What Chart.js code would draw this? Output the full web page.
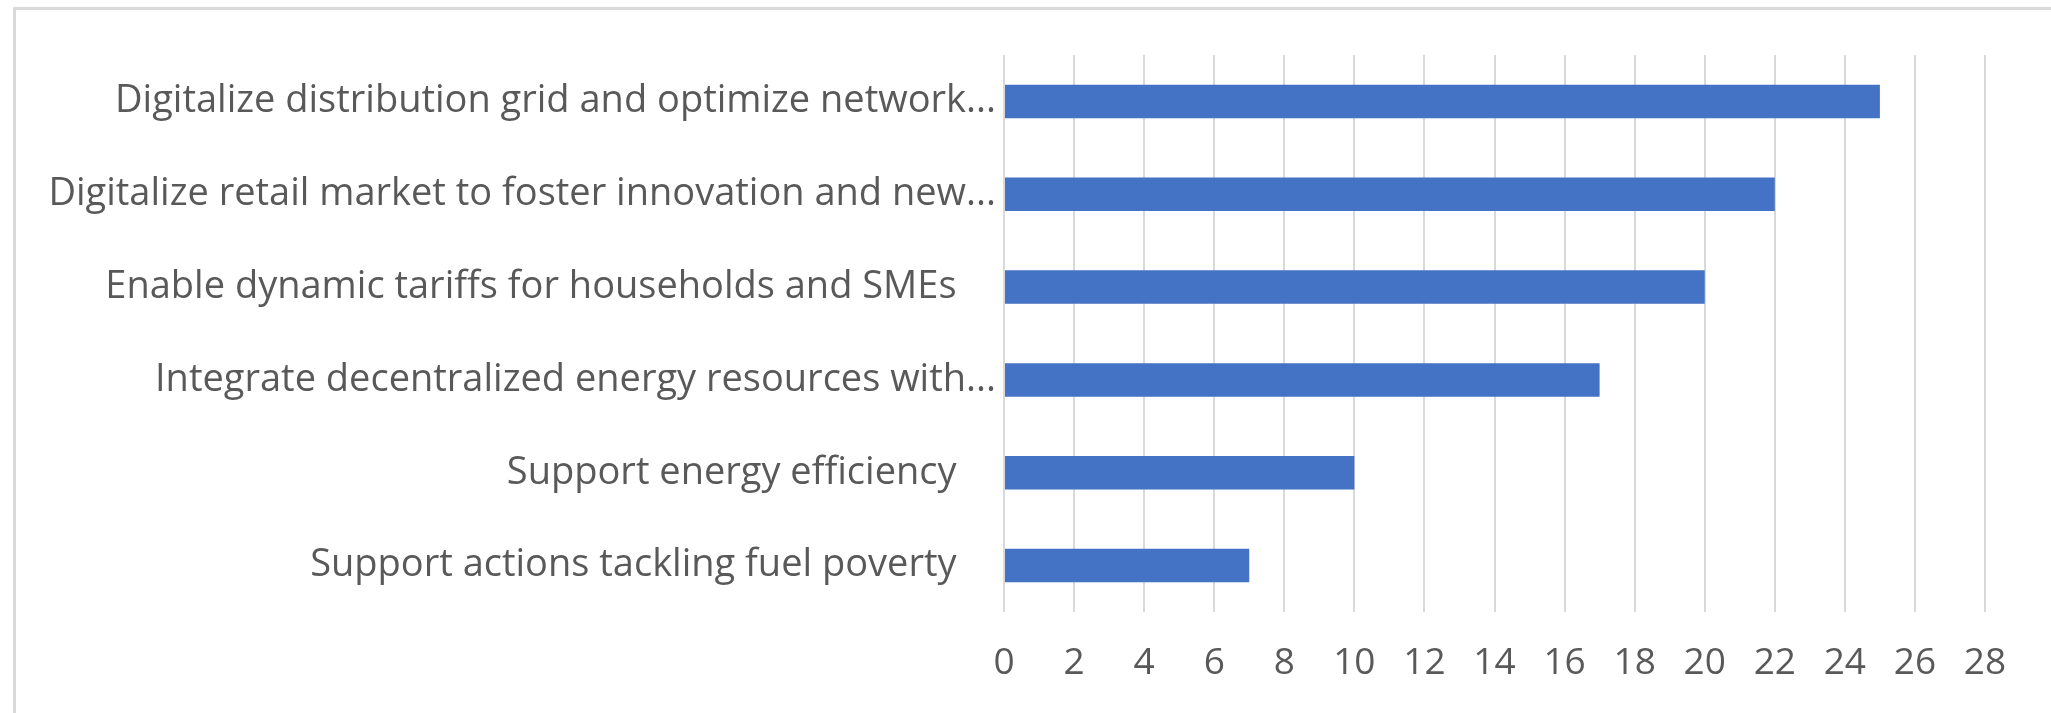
<!DOCTYPE html>
<html>
<head>
<meta charset="utf-8">
<script src="https://cdn.jsdelivr.net/npm/chart.js@4.4.0/dist/chart.umd.min.js"></script>
<style>
  html, body { margin: 0; padding: 0; background: #fff; }
  #wrap { position: relative; width: 2051px; height: 713px; overflow: hidden; }
  #frame { position: absolute; left: 13px; top: 7px; width: 2100px; height: 800px;
           border-left: 3px solid #d9d9d9; border-top: 3px solid #d9d9d9; }
  #chart { position: absolute; left: 0; top: 0; }
</style>
</head>
<body>
<div id="wrap">
  <div id="frame"></div>
  <canvas id="chart" width="2051" height="713"></canvas>
</div>
<script>
// categories, top to bottom
const categories = [
  'Digitalize distribution grid and optimize network...',
  'Digitalize retail market to foster innovation and new...',
  'Enable dynamic tariffs for households and SMEs    ',
  'Integrate decentralized energy resources with...',
  'Support energy efficiency    ',
  'Support actions tackling fuel poverty    '
];
const counts = [25, 22, 20, 17, 10, 7];
const xTicks = [0, 2, 4, 6, 8, 10, 12, 14, 16, 18, 20, 22, 24, 26, 28];

const ctx = document.getElementById('chart');
const chart = new Chart(ctx, {
  type: 'bar',
  data: {
    labels: categories,
    datasets: [{
      data: counts,
      backgroundColor: '#4472C4',
      borderWidth: 0,
      barPercentage: 0.36,
      categoryPercentage: 1
    }]
  },
  options: {
    indexAxis: 'y',
    responsive: false,
    animation: false,
    layout: { padding: { left: 0, right: 66, top: 55, bottom: 0 } },
    plugins: { legend: { display: false }, tooltip: { enabled: false } },
    scales: {
      x: {
        min: 0,
        max: 28,
        afterBuildTicks: (scale) => { scale.ticks = xTicks.map(v => ({ value: v })); },
        afterFit: (scale) => { scale.height = 101; },
        grid: { color: '#d9d9d9', lineWidth: 2, drawTicks: false },
        border: { display: false },
        ticks: {
          color: '#595959',
          padding: 29,
          font: { family: 'Open Sans', size: 37 }
        }
      },
      y: {
        afterFit: (scale) => { scale.width = 1004; },
        grid: { display: false },
        border: { display: false },
        ticks: {
          color: '#595959',
          padding: 0,
          font: { family: 'Open Sans', size: 38 }
        }
      }
    }
  }
});
</script>
</body>
</html>
